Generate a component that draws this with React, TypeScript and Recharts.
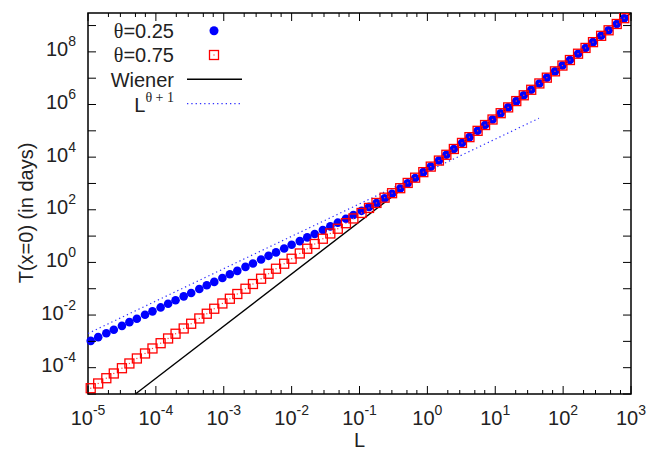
import { ComposedChart, Scatter, Line, XAxis, YAxis, ReferenceArea, Legend } from "recharts";

// L, as powers of ten (one entry per plotted point)
const lExp = [
  -4.96, -4.85, -4.73, -4.62, -4.5, -4.39, -4.28, -4.16, -4.05, -3.93,
  -3.82, -3.71, -3.59, -3.48, -3.36, -3.25, -3.14, -3.02, -2.91, -2.8,
  -2.68, -2.57, -2.45, -2.34, -2.23, -2.11, -2.0, -1.88, -1.77, -1.66,
  -1.54, -1.43, -1.32, -1.2, -1.09, -0.97, -0.86, -0.75, -0.63, -0.52,
  -0.4, -0.29, -0.18, -0.06, 0.05, 0.17, 0.28, 0.39, 0.51, 0.62,
  0.74, 0.85, 0.96, 1.08, 1.19, 1.31, 1.42, 1.53, 1.65, 1.76,
  1.88, 1.99, 2.1, 2.22, 2.33, 2.44, 2.56, 2.67, 2.79, 2.9,
];

// T(x=0) in days, as powers of ten, theta = 0.25
const tExpTheta025 = [
  -2.98, -2.84, -2.69, -2.56, -2.41, -2.27, -2.14, -1.99, -1.86, -1.71,
  -1.57, -1.44, -1.29, -1.16, -1.01, -0.87, -0.74, -0.59, -0.45, -0.32,
  -0.17, -0.04, 0.11, 0.25, 0.38, 0.53, 0.67, 0.81, 0.95, 1.08,
  1.23, 1.37, 1.51, 1.66, 1.8, 1.96, 2.11, 2.26, 2.44, 2.61,
  2.81, 3.01, 3.21, 3.43, 3.64, 3.87, 4.09, 4.31, 4.54, 4.76,
  5.0, 5.22, 5.43, 5.67, 5.89, 6.13, 6.35, 6.56, 6.8, 7.02,
  7.26, 7.48, 7.69, 7.93, 8.15, 8.37, 8.61, 8.82, 9.06, 9.28,
];

// T(x=0) in days, as powers of ten, theta = 0.75
const tExpTheta075 = [
  -4.78, -4.6, -4.4, -4.22, -4.02, -3.84, -3.65, -3.46, -3.27, -3.07,
  -2.89, -2.71, -2.51, -2.33, -2.13, -1.95, -1.76, -1.56, -1.38, -1.2,
  -1.0, -0.82, -0.62, -0.43, -0.24, -0.05, 0.14, 0.34, 0.52, 0.7,
  0.9, 1.1, 1.28, 1.49, 1.67, 1.88, 2.07, 2.26, 2.46, 2.63,
  2.82, 3.02, 3.22, 3.43, 3.64, 3.87, 4.09, 4.31, 4.54, 4.76,
  5.0, 5.22, 5.43, 5.67, 5.89, 6.13, 6.35, 6.56, 6.8, 7.02,
  7.26, 7.48, 7.69, 7.93, 8.15, 8.37, 8.61, 8.82, 9.06, 9.28,
];

// Wiener line end points
const wienerL = [5e-5, 1e3];
const wienerT = [1e-5, 3e9];

// L^(theta+1) guide line end points
const powerL = [1e-5, 44];
const powerT = [2.0e-3, 3.0e5];

const xDecades = [-5, -4, -3, -2, -1, 0, 1, 2, 3];
const xMinorSteps = [2, 3, 5, 7];
const yDecades = [-5, -4, -3, -2, -1, 0, 1, 2, 3, 4, 5, 6, 7, 8, 9];
const yLabelled = [-4, -2, 0, 2, 4, 6, 8];

const theta025 = lExp.map((e, i) => ({ L: 10 ** e, T: 10 ** tExpTheta025[i] }));
const theta075 = lExp.map((e, i) => ({ L: 10 ** e, T: 10 ** tExpTheta075[i] }));
const wiener = wienerL.map((l, i) => ({ L: l, T: wienerT[i] }));
const power = powerL.map((l, i) => ({ L: l, T: powerT[i] }));

const xTicks: number[] = [];
xDecades.forEach((d) => {
  xTicks.push(10 ** d);
  if (d < 3) xMinorSteps.forEach((m) => xTicks.push(m * 10 ** d));
});
const yTicks = yDecades.map((d) => 10 ** d);

const W = 648;
const H = 455;
const TOP = 13;
const BOTTOM = 394;
const LEFT = 88;
const RIGHT = 631;
const SANS = "'Liberation Sans', Arial, sans-serif";
const SERIF = "'Liberation Serif', 'Times New Roman', serif";

function XTick(props: any) {
  const { x, payload } = props;
  const e = Math.log10(payload.value);
  const major = Math.abs(e - Math.round(e)) < 1e-6;
  const len = major ? 8 : 4;
  return (
    <g>
      <line x1={x} x2={x} y1={BOTTOM} y2={BOTTOM - len} stroke="#000" />
      <line x1={x} x2={x} y1={TOP} y2={TOP + len} stroke="#000" />
      {major && (
        <text x={x} y={425} textAnchor="middle" fontFamily={SANS} fontSize={20} fill="#222">
          10
          <tspan dy={-10} fontSize={14}>{Math.round(e)}</tspan>
        </text>
      )}
    </g>
  );
}

function YTick(props: any) {
  const { y, payload } = props;
  const e = Math.round(Math.log10(payload.value));
  return (
    <g>
      <line x1={LEFT} x2={LEFT + 8} y1={y} y2={y} stroke="#000" />
      <line x1={RIGHT} x2={RIGHT - 8} y1={y} y2={y} stroke="#000" />
      {yLabelled.includes(e) && (
        <text x={76} y={y + 4.5} textAnchor="end" fontFamily={SANS} fontSize={20} fill="#222">
          10
          <tspan dy={-10} fontSize={14}>{e}</tspan>
        </text>
      )}
    </g>
  );
}

const XLabel = () => (
  <text x={(LEFT + RIGHT) / 2} y={447} textAnchor="middle" fontFamily={SANS} fontSize={20} fill="#222">
    L
  </text>
);

const YLabel = () => (
  <text
    x={33}
    y={213}
    transform="rotate(-90, 33, 213)"
    textAnchor="middle"
    fontFamily={SANS}
    fontSize={20}
    fill="#222"
  >
    T(x=0) (in days)
  </text>
);

const BlueDot = (p: any) => <circle cx={p.cx} cy={p.cy} r={4.3} fill="#0000ff" />;

const RedSquare = (p: any) => (
  <g>
    <rect x={p.cx - 4.5} y={p.cy - 4.5} width={9} height={9} fill="none" stroke="#ff0000" strokeWidth={1.3} />
    <rect x={p.cx - 0.6} y={p.cy - 0.6} width={1.2} height={1.2} fill="#ff4040" />
  </g>
);

function LegendBox() {
  return (
    <svg width={260} height={120} style={{ display: "block" }}>
      <g fontFamily={SANS} fontSize={20} fill="#222">
        <text x={174} y={38} textAnchor="end">
          <tspan fontFamily={SERIF}>θ</tspan>=0.25
        </text>
        <circle cx={214} cy={30.7} r={4.5} fill="#0000ff" />
        <text x={174} y={62.3} textAnchor="end">
          <tspan fontFamily={SERIF}>θ</tspan>=0.75
        </text>
        <rect x={209.5} y={50.5} width={9} height={9} fill="none" stroke="#ff0000" strokeWidth={1.3} />
        <rect x={213.4} y={54.4} width={1.2} height={1.2} fill="#ff4040" />
        <text x={174} y={86.5} textAnchor="end">Wiener</text>
        <line x1={187} x2={242} y1={79.3} y2={79.3} stroke="#000" strokeWidth={1.4} />
        <text x={174} y={111.5} textAnchor="end">
          L
          <tspan dy={-10} fontSize={14} fontFamily={SERIF}>θ + 1</tspan>
        </text>
        <line x1={187} x2={242} y1={103.7} y2={103.7} stroke="#3030ff" strokeWidth={1.2} strokeDasharray="1.3 3" />
      </g>
    </svg>
  );
}

export default function App() {
  return (
    <div style={{ position: "absolute", left: 0, top: 0, width: W, height: H, background: "#fff" }}>
      <ComposedChart width={W} height={H} margin={{ top: TOP, right: W - RIGHT, bottom: 11, left: 8 }}>
        <XAxis
          dataKey="L"
          type="number"
          scale="log"
          domain={[1e-5, 1e3]}
          ticks={xTicks}
          interval={0}
          height={50}
          axisLine={false}
          tickLine={false}
          tick={XTick}
          label={<XLabel />}
        />
        <YAxis
          dataKey="T"
          type="number"
          scale="log"
          domain={[1e-5, 3e9]}
          ticks={yTicks}
          interval={0}
          width={80}
          axisLine={false}
          tickLine={false}
          tick={YTick}
          label={<YLabel />}
        />
        <ReferenceArea
          x1={1e-5}
          x2={1e3}
          y1={1e-5}
          y2={3e9}
          fill="none"
          fillOpacity={0}
          stroke="#000"
          strokeWidth={1.5}
          ifOverflow="visible"
        />
        <Scatter name="θ=0.25" data={theta025} dataKey="T" shape={BlueDot} isAnimationActive={false} />
        <Scatter name="θ=0.75" data={theta075} dataKey="T" shape={RedSquare} isAnimationActive={false} />
        <Line
          name="Wiener"
          data={wiener}
          dataKey="T"
          type="linear"
          stroke="#000"
          strokeWidth={1.4}
          dot={false}
          activeDot={false}
          isAnimationActive={false}
        />
        <Line
          name="L^(θ+1)"
          data={power}
          dataKey="T"
          type="linear"
          stroke="#3030ff"
          strokeWidth={1.2}
          strokeDasharray="1.3 3"
          dot={false}
          activeDot={false}
          isAnimationActive={false}
        />
        <Legend
          layout="vertical"
          align="center"
          verticalAlign="middle"
          wrapperStyle={{ left: 0, top: 0, width: 260, height: 120 }}
          content={() => <LegendBox />}
        />
      </ComposedChart>
    </div>
  );
}
